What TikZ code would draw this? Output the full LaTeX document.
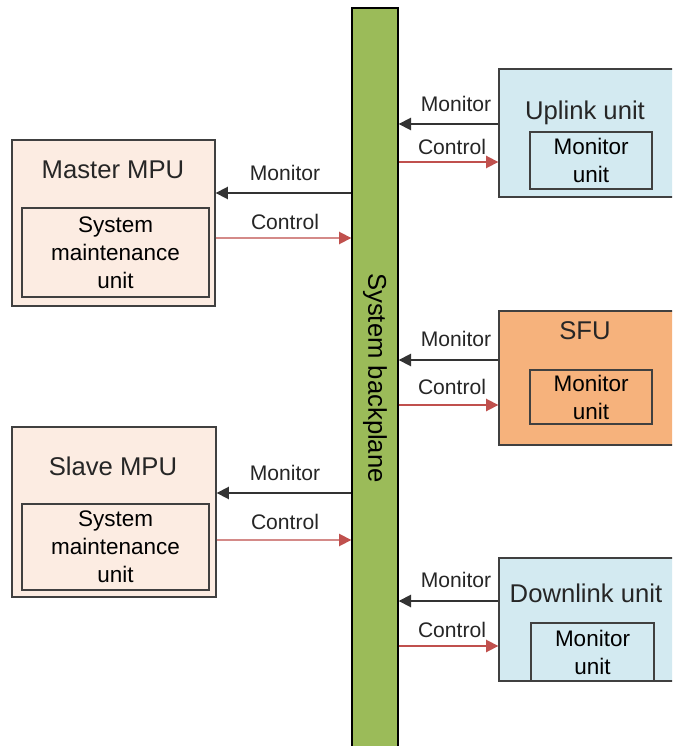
\documentclass[tikz,border=0pt]{standalone}
\usepackage{fontspec}
\setmainfont{Liberation Sans}
\usetikzlibrary{arrows.meta}
\definecolor{peach}{HTML}{FCECE2}
\definecolor{iceblue}{HTML}{D3EAF1}
\definecolor{sfuorange}{HTML}{F6B27C}
\definecolor{bpgreen}{HTML}{9BBB59}
\definecolor{ctlred}{HTML}{C0504D}
\definecolor{ctlpink}{HTML}{D48A88}
\definecolor{boxline}{HTML}{404040}

\begin{document}
\begin{tikzpicture}[x=0.02cm,y=-0.02cm,
  outer/.style={draw=boxline,line width=0.8pt,inner sep=0pt},
  inner/.style={draw=boxline,line width=0.8pt,inner sep=0pt,align=center,
    font=\fontsize{12.8}{15.9}\selectfont},
  title/.style={font=\fontsize{14.6}{16}\selectfont,text=black!85},
  lbl/.style={font=\fontsize{12}{13}\selectfont,text=black!85},
  mon/.style={black!80,line width=1pt,-{Triangle[length=7pt,width=7pt]}},
  ctl/.style={ctlred,line width=1pt,-{Triangle[length=7pt,width=7pt]}},
  ctlleft/.style={ctlpink,line width=1pt,-{Triangle[length=7pt,width=7pt,color=ctlred]}}]
  \clip (0,0) rectangle (672,746);
  \fill[white] (0,0) rectangle (672,746);

  % backplane
  \node[draw=black,fill=bpgreen,line width=0.8pt,minimum width=0.92cm,minimum height=15.04cm,inner sep=0pt] (bp) at (375,384) {};
  \node[rotate=-90,font=\fontsize{14.6}{16}\selectfont] at (375,378) {System backplane};

  % left side
  \node[outer,fill=peach,minimum width=4.06cm,minimum height=3.32cm] (mmpu) at (113.5,223) {};
  \node[title] at (113,170) {Master MPU};
  \node[inner,minimum width=3.74cm,minimum height=1.78cm] (mmsu) at (115.5,252.5) {System\\maintenance\\unit};

  \node[outer,fill=peach,minimum width=4.08cm,minimum height=3.4cm] (smpu) at (114,512) {};
  \node[title] at (113,466) {Slave MPU};
  \node[inner,minimum width=3.74cm,minimum height=1.72cm] (smsu) at (115.5,547) {System\\maintenance\\unit};

  % right side
  \node[outer,fill=iceblue,minimum width=3.82cm,minimum height=2.56cm] (up) at (594.5,133) {};
  \node[title] at (585,113) {Uplink unit};
  \node[inner,minimum width=2.44cm,minimum height=1.14cm] (upmu) at (591,160.5) {Monitor\\unit};

  \node[outer,fill=sfuorange,minimum width=3.82cm,minimum height=2.68cm] (sfu) at (594.5,378) {};
  \node[title] at (585,331) {SFU};
  \node[inner,minimum width=2.44cm,minimum height=1.08cm] (sfumu) at (591,397) {Monitor\\unit};

  \node[outer,fill=iceblue,minimum width=3.82cm,minimum height=2.46cm] (down) at (594.5,619.5) {};
  \node[title] at (586,593) {Downlink unit};
  \node[inner,minimum width=2.46cm,minimum height=1.16cm] (downmu) at (592.5,652) {Monitor\\unit};

  % links
  \draw[mon] (bp.west |- 0,193) -- (mmpu.east |- 0,193);
  \node[lbl] at (285,173) {Monitor};
  \draw[ctlleft] (mmpu.east |- 0,238) -- (bp.west |- 0,238);
  \node[lbl] at (285,222) {Control};

  \draw[mon] (bp.west |- 0,493) -- (smpu.east |- 0,493);
  \node[lbl] at (285,473) {Monitor};
  \draw[ctlleft] (smpu.east |- 0,540) -- (bp.west |- 0,540);
  \node[lbl] at (285,522) {Control};

  \draw[mon] (up.west |- 0,124) -- (bp.east |- 0,124);
  \node[lbl] at (456,104) {Monitor};
  \draw[ctl] (bp.east |- 0,162) -- (up.west |- 0,162);
  \node[lbl] at (452,147) {Control};

  \draw[mon] (sfu.west |- 0,360) -- (bp.east |- 0,360);
  \node[lbl] at (456,339) {Monitor};
  \draw[ctl] (bp.east |- 0,405) -- (sfu.west |- 0,405);
  \node[lbl] at (452,387) {Control};

  \draw[mon] (down.west |- 0,601) -- (bp.east |- 0,601);
  \node[lbl] at (456,580) {Monitor};
  \draw[ctl] (bp.east |- 0,646) -- (down.west |- 0,646);
  \node[lbl] at (452,630) {Control};
\end{tikzpicture}
\end{document}
